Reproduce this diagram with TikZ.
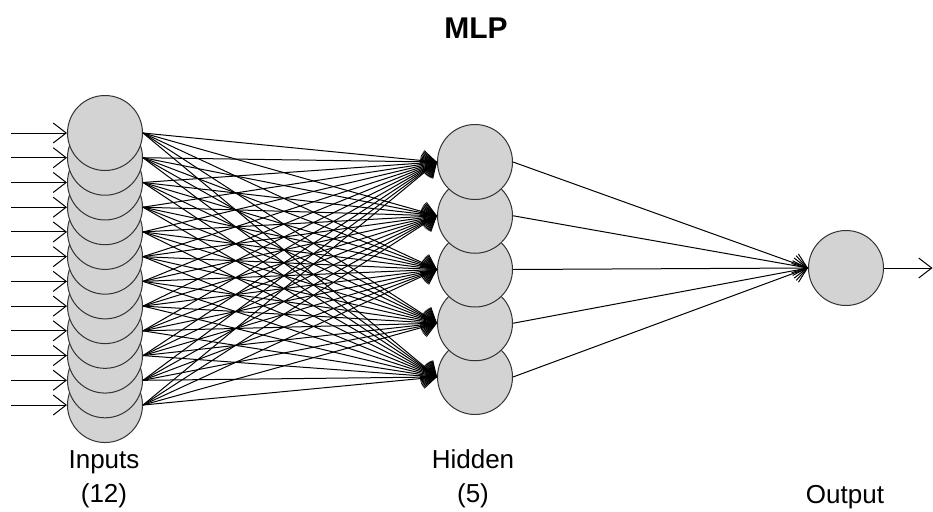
\documentclass[tikz,border=0pt]{standalone}
\usepackage{fontspec}
\setmainfont{Liberation Sans}
\definecolor{nnfill}{RGB}{211,211,211}
\definecolor{nnedge}{RGB}{50,50,50}
\usetikzlibrary{arrows.meta,positioning}

\begin{document}
\begin{tikzpicture}[x=1pt,y=-1pt,
  neuron/.style={circle,draw=nnedge,line width=1pt,fill=nnfill,minimum size=75pt,inner sep=0pt},
  link/.style={line width=1pt,-{Straight Barb[length=13pt,width=20pt,line width=1pt]}},
  lab/.style={anchor=base,font=\fontsize{26}{30}\selectfont}]
  \useasboundingbox (0,0) rectangle (933,511);
  % input layer, drawn bottom up so upper circles lie on top
  \foreach \i in {12,...,1}
    \node[neuron] (in\i) at (105,{133+24.73*(\i-1)}) {};
  % hidden layer
  \foreach \j in {5,...,1}
    \node[neuron] (hid\j) at (475,{162+53.75*(\j-1)}) {};
  \node[neuron] (out) at (846,268) {};
  % arrows into the inputs
  \foreach \i in {1,...,12} {
    \coordinate (src\i) at (11,{133+24.73*(\i-1)});
    \draw[link] (src\i) -- (in\i.west);
  }
  % weights
  \foreach \i in {1,...,12}
    \foreach \j in {1,...,5}
      \draw[link] (in\i.east) -- (hid\j.west);
  \foreach \j in {1,...,5}
    \draw[link] (hid\j.east) -- (out.west);
  \coordinate (res) at (932.5,268);
  \draw[link] (out.east) -- (res);
  % labels
  \node[anchor=base,font=\fontsize{30}{34}\selectfont\bfseries] (title) at (476,38) {MLP};
  \node[lab] (inlab) at (104,468) {Inputs};
  \node[lab] (incount) at (104,502) {(12)};
  \node[lab] (hidlab) at (473,468) {Hidden};
  \node[lab] (hidcount) at (473,502) {(5)};
  \node[lab] (outlab) at (845,503) {Output};
\end{tikzpicture}
\end{document}
